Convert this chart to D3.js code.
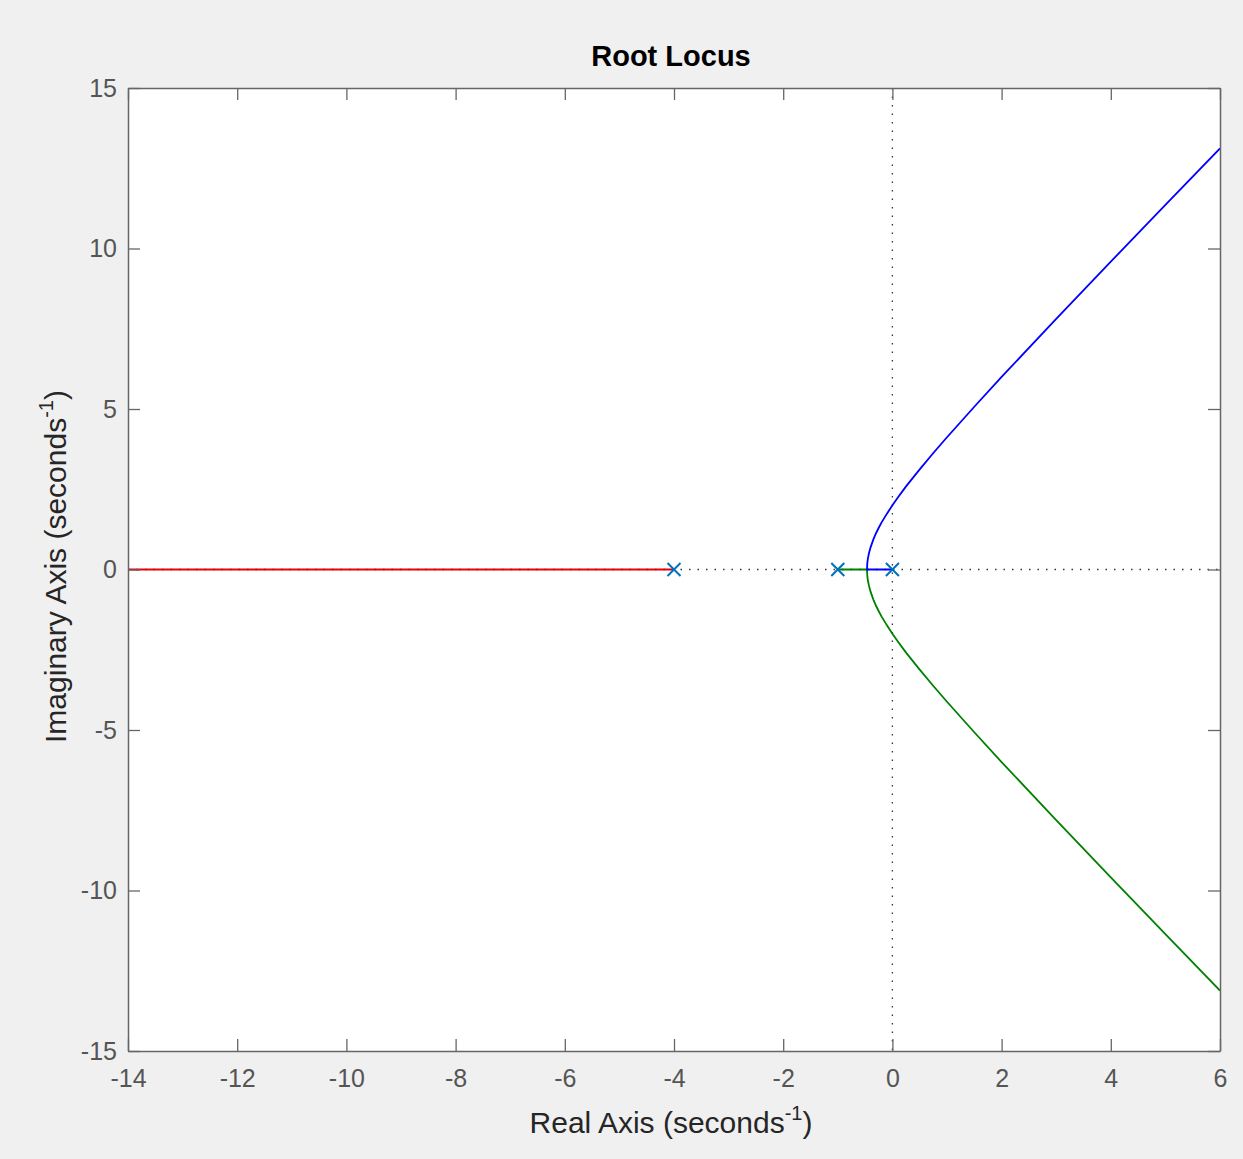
<!DOCTYPE html>
<html>
<head>
<meta charset="utf-8">
<script src="https://cdn.jsdelivr.net/npm/d3@7"></script>
<style>
  body { margin: 0; background: #f0f0f0; }
  svg { display: block; font-family: "Liberation Sans", Arial, sans-serif; }
</style>
</head>
<body>
<svg id="chart"></svg>
<script>
// poles of the open loop (real axis)
const poles = [-4, -1, 0];

// branch going up (blue): from pole at 0 to breakaway, then upward
const blueBranch = [
  [0, 0], [-0.465, 0], [-0.46, 0.19], [-0.45, 0.33], [-0.43, 0.5], [-0.4, 0.69],
  [-0.35, 0.93], [-0.3, 1.13], [-0.25, 1.3], [-0.2, 1.46], [-0.15, 1.6], [-0.1, 1.74],
  [0, 2], [0.1, 2.24], [0.25, 2.59], [0.5, 3.12], [0.75, 3.63], [1, 4.12], [1.5, 5.07],
  [2, 6], [3, 7.81], [4, 9.59], [5, 11.36], [6, 13.12]
];

// branch going down (green): from pole at -1 to breakaway, then downward
const greenBranch = [
  [-1, 0], [-0.465, 0], [-0.46, -0.19], [-0.45, -0.33], [-0.43, -0.5], [-0.4, -0.69],
  [-0.35, -0.93], [-0.3, -1.13], [-0.25, -1.3], [-0.2, -1.46], [-0.15, -1.6], [-0.1, -1.74],
  [0, -2], [0.1, -2.24], [0.25, -2.59], [0.5, -3.12], [0.75, -3.63], [1, -4.12], [1.5, -5.07],
  [2, -6], [3, -7.81], [4, -9.59], [5, -11.36], [6, -13.12]
];

// real-axis branch (red): from pole at -4 toward -infinity
const redBranch = [[-4, 0], [-14, 0]];

const xTicks = [-14, -12, -10, -8, -6, -4, -2, 0, 2, 4, 6];
const yTicks = [-15, -10, -5, 0, 5, 10, 15];

const W = 1243, H = 1159;
const margin = { top: 88, right: 23, bottom: 108, left: 128 };
const iw = W - margin.left - margin.right,
      ih = H - margin.top - margin.bottom;

const svg = d3.select("#chart").attr("width", W).attr("height", H);

svg.append("rect").attr("width", W).attr("height", H).attr("fill", "#f0f0f0");

const g = svg.append("g").attr("transform", `translate(${margin.left},${margin.top})`);

const x = d3.scaleLinear().domain([-14, 6]).range([0, iw]);
const y = d3.scaleLinear().domain([-15, 15]).range([ih, 0]);

g.append("rect").attr("width", iw).attr("height", ih).attr("fill", "#fff");

g.append("clipPath").attr("id", "clip")
  .append("rect").attr("width", iw).attr("height", ih);

const plot = g.append("g").attr("clip-path", "url(#clip)");

// dotted zero lines
plot.append("line")
  .attr("x1", 0).attr("x2", iw).attr("y1", y(0)).attr("y2", y(0))
  .attr("stroke", "#333").attr("stroke-width", 1.3).attr("stroke-dasharray", "1.5,7");
plot.append("line")
  .attr("x1", x(0)).attr("x2", x(0)).attr("y1", 0).attr("y2", ih)
  .attr("stroke", "#333").attr("stroke-width", 1.3).attr("stroke-dasharray", "1.5,7");

const line = d3.line().x(d => x(d[0])).y(d => y(d[1]));

plot.append("path").datum(redBranch).attr("d", line)
  .attr("fill", "none").attr("stroke", "#e3000b").attr("stroke-width", 1.8);
plot.append("path").datum(greenBranch).attr("d", line)
  .attr("fill", "none").attr("stroke", "#008000").attr("stroke-width", 1.8);
plot.append("path").datum(blueBranch).attr("d", line)
  .attr("fill", "none").attr("stroke", "#0000ff").attr("stroke-width", 1.8);

// pole markers
const m = 6.5;
plot.selectAll("path.pole").data(poles).enter().append("path")
  .attr("class", "pole")
  .attr("d", d => `M${x(d) - m},${y(0) - m}L${x(d) + m},${y(0) + m}M${x(d) - m},${y(0) + m}L${x(d) + m},${y(0) - m}`)
  .attr("stroke", "#0072bd").attr("stroke-width", 2).attr("fill", "none");

// axes with inward ticks on all four sides
const axisColor = "#666";
const fmt = d => String(d); // plain hyphen minus, like the reference
function styleAxis(sel) {
  sel.select(".domain").attr("stroke", axisColor).attr("stroke-width", 1.5);
  sel.selectAll(".tick line").attr("stroke", axisColor).attr("stroke-width", 1.3);
  sel.selectAll(".tick text").attr("fill", "#555").attr("font-size", 25)
    .attr("font-family", "'Liberation Sans', Arial, sans-serif");
}

g.append("g").attr("transform", `translate(0,${ih})`)
  .call(d3.axisBottom(x).tickValues(xTicks).tickFormat(fmt).tickSizeInner(-12).tickSizeOuter(0).tickPadding(18))
  .call(styleAxis);
g.append("g")
  .call(d3.axisTop(x).tickValues(xTicks).tickSizeInner(-12).tickSizeOuter(0).tickFormat(""))
  .call(styleAxis);
g.append("g")
  .call(d3.axisLeft(y).tickValues(yTicks).tickFormat(fmt).tickSizeInner(-12).tickSizeOuter(0).tickPadding(11))
  .call(styleAxis);
g.append("g").attr("transform", `translate(${iw},0)`)
  .call(d3.axisRight(y).tickValues(yTicks).tickSizeInner(-12).tickSizeOuter(0).tickFormat(""))
  .call(styleAxis);

// title
svg.append("text")
  .attr("x", margin.left + iw / 2 - 3).attr("y", 66)
  .attr("text-anchor", "middle").attr("font-size", 29).attr("font-weight", "bold")
  .attr("fill", "#000").text("Root Locus");

// x label
const xl = svg.append("text")
  .attr("x", margin.left + iw / 2 - 3).attr("y", 1133)
  .attr("text-anchor", "middle").attr("font-size", 30).attr("fill", "#262626");
xl.append("tspan").text("Real Axis (seconds");
xl.append("tspan").attr("dy", -13).attr("font-size", 20).text("-1");
xl.append("tspan").attr("dy", 13).text(")");

// y label
const yl = svg.append("text")
  .attr("transform", `translate(66,${margin.top + ih / 2 - 3}) rotate(-90)`)
  .attr("text-anchor", "middle").attr("font-size", 30).attr("fill", "#262626");
yl.append("tspan").text("Imaginary Axis (seconds");
yl.append("tspan").attr("dy", -13).attr("font-size", 20).text("-1");
yl.append("tspan").attr("dy", 13).text(")");
</script>
</body>
</html>
